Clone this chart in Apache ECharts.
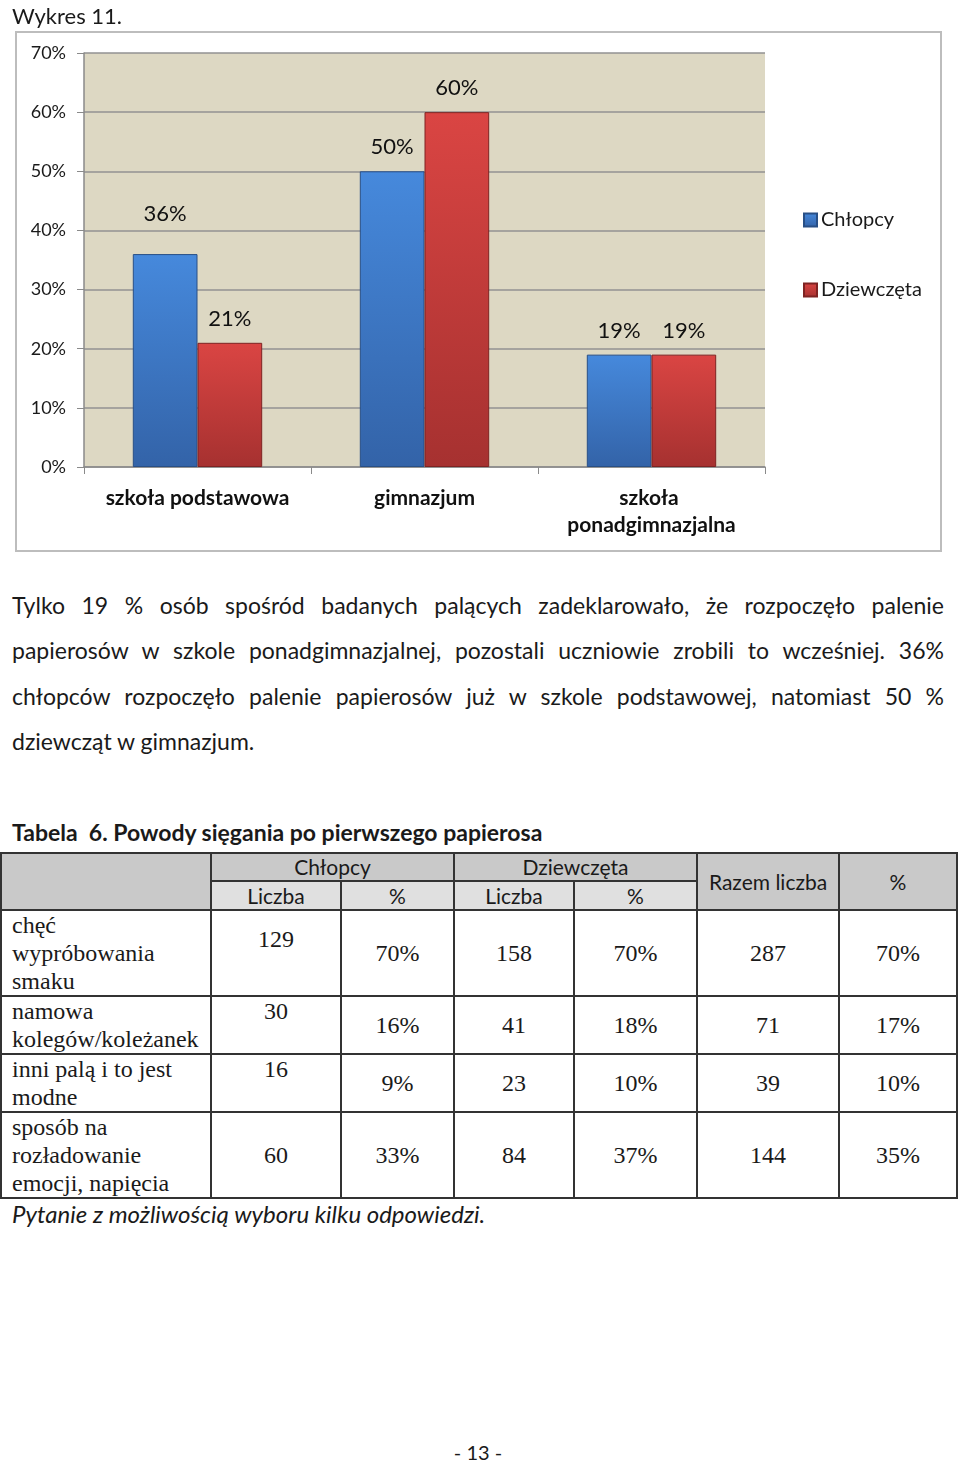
<!DOCTYPE html>
<html lang="pl">
<head>
<meta charset="utf-8">
<script src="https://cdn.jsdelivr.net/npm/echarts@6/dist/echarts.min.js"></script>
<style>
  html, body { margin: 0; padding: 0; background: #fff; }
  body { width: 960px; height: 1462px; position: relative; overflow: hidden; font-family: Lato, "Open Sans", sans-serif; color: #1a1a1a; }
  #chart { position: absolute; left: 0; top: 0; width: 960px; height: 560px; }
  .para { position: absolute; left: 12px; top: 583px; width: 932px; font-size: 23px; }
  .para div { height: 45.3px; line-height: 45.3px; text-align: justify; text-align-last: justify; white-space: nowrap; }
  .para div.last { text-align-last: left; }
  .ttl { position: absolute; left: 12px; top: 817px; font-size: 23px; font-weight: bold; line-height: 30px; }
  table { position: absolute; left: 0; top: 852px; border-collapse: collapse; table-layout: fixed; width: 956px; }
  td { border: 2px solid #333; padding: 0; text-align: center; vertical-align: middle; font-family: "Liberation Serif", "Times New Roman", serif; font-size: 24px; line-height: 28px; }
  td.h { font-family: Lato, sans-serif; font-size: 21px; line-height: 24px; background: #c9c9c9; }
  td.h2 { background: #e0e0e0; }
  td.lab { text-align: left; padding-left: 10px; }
  td.topv { vertical-align: top; }
  .note { position: absolute; left: 12px; top: 1199px; font-style: italic; font-size: 24px; line-height: 30px; }
  .page { position: absolute; left: 0; width: 956px; text-align: center; top: 1439px; font-size: 20px; line-height: 26px; }
</style>
</head>
<body>
<div id="chart"></div>

<div class="para">
  <div>Tylko 19 % osób spośród badanych palących zadeklarowało, że rozpoczęło palenie</div>
  <div>papierosów w szkole ponadgimnazjalnej, pozostali uczniowie zrobili to wcześniej. 36%</div>
  <div>chłopców rozpoczęło palenie papierosów już w szkole podstawowej, natomiast 50 %</div>
  <div class="last">dziewcząt w gimnazjum.</div>
</div>

<div class="ttl">Tabela&nbsp; 6. Powody sięgania po pierwszego papierosa</div>

<table id="tbl">
  <colgroup>
    <col style="width:210px"><col style="width:130px"><col style="width:113px"><col style="width:120px"><col style="width:123px"><col style="width:142px"><col style="width:118px">
  </colgroup>
</table>

<div class="note">Pytanie z możliwością wyboru kilku odpowiedzi.</div>
<div class="page">- 13 -</div>

<script>
// ---- chart data ----
const categories = ['szkoła podstawowa', 'gimnazjum', 'szkoła ponadgimnazjalna'];
const seriesNames = ['Chłopcy', 'Dziewczęta'];
const boys = [36, 50, 19];
const girls = [21, 60, 19];
const yTicks = [0, 10, 20, 30, 40, 50, 60, 70];

// ---- table data ----
const tableReasons = [
  ['chęć', 'wypróbowania', 'smaku'],
  ['namowa', 'kolegów/koleżanek'],
  ['inni palą i to jest', 'modne'],
  ['sposób na', 'rozładowanie', 'emocji, napięcia']
];
const boysCount = [129, 30, 16, 60];
const boysPct = ['70%', '16%', '9%', '33%'];
const girlsCount = [158, 41, 23, 84];
const girlsPct = ['70%', '18%', '10%', '37%'];
const totalCount = [287, 71, 39, 144];
const totalPct = ['70%', '17%', '10%', '35%'];

// ---- build table ----
(function () {
  const t = document.getElementById('tbl');
  const rowH = [86, 58, 58, 86];
  const topPad = [14, 0, 0, null];
  let html = '<tr style="height:28px"><td class="h" rowspan="2"></td>' +
    '<td class="h" colspan="2" style="border-bottom-width:1px">Chłopcy</td>' +
    '<td class="h" colspan="2" style="border-bottom-width:1px">Dziewczęta</td>' +
    '<td class="h" rowspan="2">Razem liczba</td><td class="h" rowspan="2">%</td></tr>' +
    '<tr style="height:29px"><td class="h h2">Liczba</td><td class="h h2">%</td><td class="h h2">Liczba</td><td class="h h2">%</td></tr>';
  for (let i = 0; i < tableReasons.length; i++) {
    const bc = topPad[i] === null
      ? '<td>' + boysCount[i] + '</td>'
      : '<td class="topv" style="padding-top:' + topPad[i] + 'px">' + boysCount[i] + '</td>';
    html += '<tr style="height:' + rowH[i] + 'px">' +
      '<td class="lab">' + tableReasons[i].join('<br>') + '</td>' + bc +
      '<td>' + boysPct[i] + '</td><td>' + girlsCount[i] + '</td><td>' + girlsPct[i] + '</td>' +
      '<td>' + totalCount[i] + '</td><td>' + totalPct[i] + '</td></tr>';
  }
  t.insertAdjacentHTML('beforeend', html);
})();

// ---- chart ----
const chart = echarts.init(document.getElementById('chart'), null, { renderer: 'canvas' });
const blueGrad = { type: 'linear', x: 0, y: 0, x2: 0, y2: 1, colorStops: [
  { offset: 0, color: '#4689dc' }, { offset: 1, color: '#3363a8' } ] };
const redGrad = { type: 'linear', x: 0, y: 0, x2: 0, y2: 1, colorStops: [
  { offset: 0, color: '#da4543' }, { offset: 1, color: '#a63130' } ] };
const labelFont = { fontFamily: 'Lato, sans-serif', fontSize: 22, color: '#111' };

chart.setOption({
  animation: false,
  title: { text: 'Wykres 11.', left: 7, top: 1, textStyle: { fontFamily: 'Lato, sans-serif', fontSize: 22, fontWeight: 'normal', color: '#1a1a1a' } },
  graphic: [{ type: 'rect', shape: { x: 16, y: 32, width: 925, height: 519 }, style: { fill: 'none', stroke: '#bdbdbd', lineWidth: 2 }, z: -1 }],
  legend: {
    orient: 'vertical', left: 798, top: 205, itemGap: 50, itemWidth: 13, itemHeight: 13, icon: 'rect',
    textStyle: { fontFamily: 'Lato, sans-serif', fontSize: 20, color: '#1a1a1a', padding: [0, 0, 0, -1] },
    data: seriesNames
  },
  grid: { left: 84, top: 53, width: 681, height: 414, show: true, backgroundColor: '#ddd8c3', borderWidth: 0 },
  xAxis: {
    type: 'category', data: categories,
    axisLine: { show: true, lineStyle: { color: '#8a8a8a', width: 1.5 } },
    axisTick: { show: true, length: 7, interval: 0, lineStyle: { color: '#8a8a8a' } },
    axisLabel: { interval: 0, margin: 18, width: 215, overflow: 'break', lineHeight: 27,
      fontFamily: 'Lato, sans-serif', fontWeight: 'bold', fontSize: 21, color: '#111' }
  },
  yAxis: {
    type: 'value', min: yTicks[0], max: yTicks[yTicks.length - 1], interval: 10,
    axisLine: { show: true, lineStyle: { color: '#8a8a8a', width: 1.5 } },
    axisTick: { show: true, length: 7, lineStyle: { color: '#8a8a8a' } },
    axisLabel: { formatter: '{value}%', margin: 18, fontFamily: 'Lato, sans-serif', fontSize: 18, color: '#1a1a1a' },
    splitLine: { lineStyle: { color: '#929292', width: 1.5 } }
  },
  series: [
    { name: seriesNames[0], type: 'bar', barGap: '0%', barCategoryGap: '43%',
      itemStyle: { color: blueGrad, borderColor: '#284f86', borderWidth: 1 },
      label: Object.assign({ show: true, position: 'top', distance: 13, formatter: '{c}%' }, labelFont),
      data: boys.map((v, i) => i === 0 ? { value: v, label: { distance: 29 } } : v) },
    { name: seriesNames[1], type: 'bar',
      itemStyle: { color: redGrad, borderColor: '#7e2322', borderWidth: 1 },
      label: Object.assign({ show: true, position: 'top', distance: 13, formatter: '{c}%' }, labelFont),
      data: girls }
  ]
});
</script>
</body>
</html>
